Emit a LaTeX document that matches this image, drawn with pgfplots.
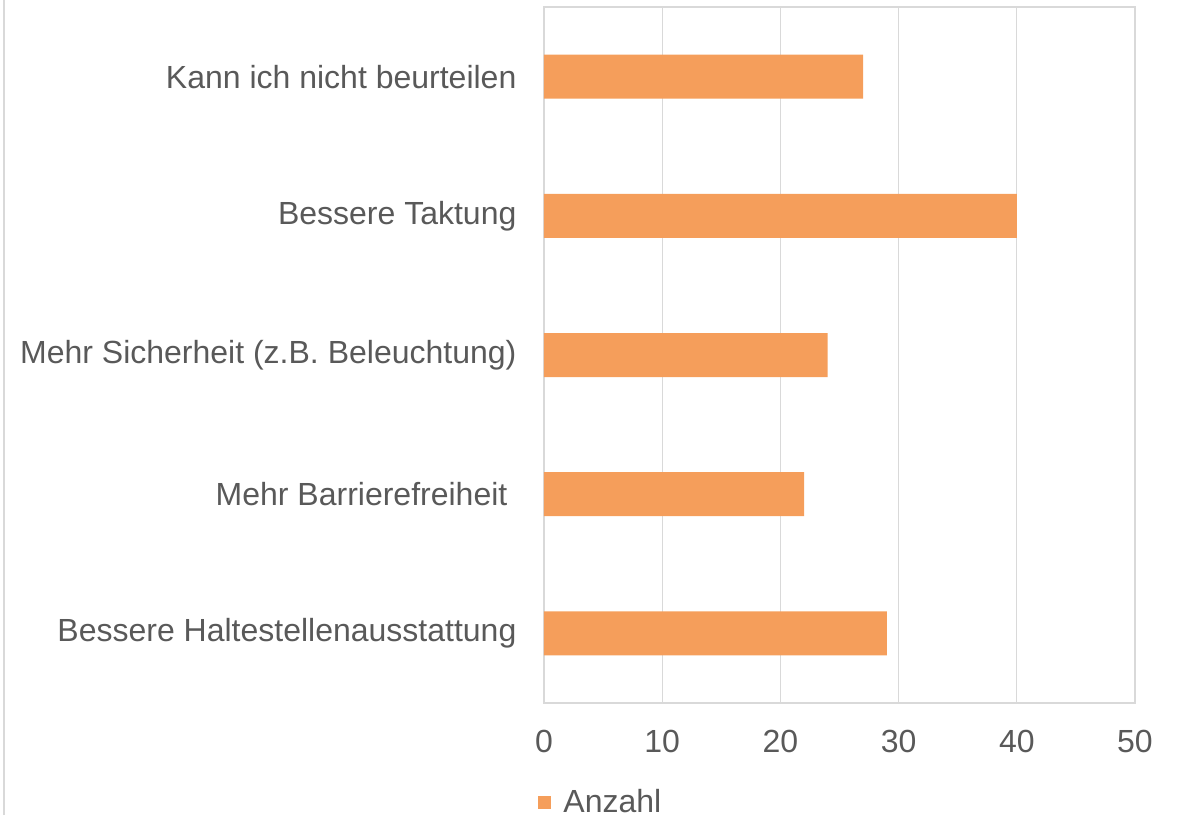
\documentclass[border=0pt]{standalone}
\usepackage{pgfplots}
\pgfplotsset{compat=1.18}
\usepackage{fontspec}
\setmainfont{Liberation Sans}
\definecolor{barorange}{HTML}{F59E5B}
\definecolor{txtgray}{HTML}{595959}
\definecolor{gridgray}{HTML}{D9D9D9}
\begin{document}
\begin{tikzpicture}
\path[use as bounding box] (-272pt,-56pt) rectangle (318.5pt,351.5pt);
\draw[gridgray,line width=0.6pt] (-270pt,-56pt) -- (-270pt,351.5pt);
\begin{axis}[
  scale only axis, width=295.5pt, height=348pt,
  xbar, bar width=22pt,
  xmin=0, xmax=50, xtick={0,10,...,50},
  ymin=-0.5, ymax=4.5, ytick={0,1,2,3,4},
  yticklabels={Bessere Haltestellenausstattung, Mehr Barrierefreiheit\hspace*{4.5pt}, Mehr Sicherheit (z.B. Beleuchtung), Bessere Taktung, Kann ich nicht beurteilen},
  font=\fontsize{16}{19}\selectfont,
  /pgf/number format/assume math mode=true,
  tick style={draw=none},
  axis line style={gridgray, line width=0.6pt},
  xmajorgrids, grid style={gridgray, line width=0.6pt},
  ticklabel style={text=txtgray},
  xticklabel style={yshift=-10pt},
  yticklabel style={xshift=-6pt},
  legend style={draw=none, at={(-0.010,-0.118)}, anchor=north west, text=txtgray, inner sep=0pt},
  legend image code/.code={\fill[#1] (0pt,-3.3pt) rectangle (6.5pt,3.3pt); \path (10.5pt,0pt);},
]
\addplot[fill=barorange, draw=none] coordinates {(29,0) (22,1) (24,2) (40,3) (27,4)};
\addlegendentry{Anzahl}
\end{axis}
\end{tikzpicture}
\end{document}
